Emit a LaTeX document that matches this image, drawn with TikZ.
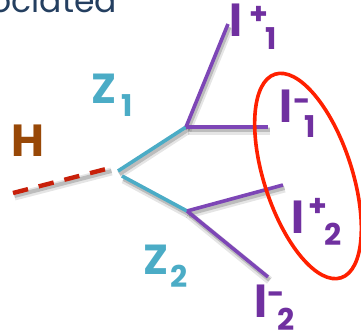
\documentclass[tikz,border=0pt]{standalone}
\usepackage{fontspec}
\setmainfont{Poppins}
\definecolor{titleblue}{HTML}{243F60}
\definecolor{hbrown}{HTML}{984807}
\definecolor{zteal}{HTML}{4BACC6}
\definecolor{lpurple}{HTML}{7030A0}
\definecolor{lnpurple}{HTML}{7D46B6}
\definecolor{dashred}{HTML}{C8200A}
\definecolor{ellred}{HTML}{FF2000}
\begin{document}
\begin{tikzpicture}[x=1pt,y=-1pt,
  every node/.style={inner sep=0pt, outer sep=0pt},
  shadowA/.style={draw=black, opacity=0.10, line width=8pt, transform canvas={shift={(1.5pt,-3.5pt)}}},
  shadowB/.style={draw=black, opacity=0.18, line width=4pt, transform canvas={shift={(1.5pt,-3pt)}}},
  zline/.style={draw=zteal, line width=3.6pt},
  lline/.style={draw=lnpurple, line width=3.6pt},
  hline/.style={draw=dashred, line width=4.4pt, dash pattern=on 15.5pt off 11pt},
  bigl/.style={text=lpurple, font=\bfseries\fontsize{44}{44}\selectfont, anchor=base west},
  smallp/.style={text=lpurple, font=\bfseries\fontsize{30}{30}\selectfont, anchor=base west},
  zlab/.style={text=zteal, font=\bfseries\fontsize{42}{42}\selectfont, anchor=base west},
  zsub/.style={text=zteal, font=\bfseries\fontsize{30}{30}\selectfont, anchor=base west}]
\useasboundingbox (0,0) rectangle (361,334);

% coordinates
\coordinate (hs) at (13,193);
\coordinate (he) at (110,168);
\coordinate (v1) at (118,171);
\coordinate (v2) at (122,176);
\coordinate (za) at (186,127);
\coordinate (zb) at (187,211);
\coordinate (lp1) at (228,24);
\coordinate (lm1) at (268,127);
\coordinate (lp2) at (283,185);
\coordinate (lm2) at (268,277);

% title fragment
\node[text=titleblue, font=\fontsize{33}{33}\selectfont, anchor=base east] (title) at (117,13) {associated};

% shadows
\foreach \s in {shadowA,shadowB}{
  \draw[\s] (hs) -- (he);
  \draw[\s] (v1) -- (za);
  \draw[\s] (v2) -- (zb);
  \draw[\s] (za) -- (lp1);
  \draw[\s] (za) -- (lm1);
  \draw[\s] (zb) -- (lp2);
  \draw[\s] (zb) -- (lm2);
}

% lines
\draw[hline] (hs) -- (he);
\draw[zline] (v1) -- (za);
\draw[zline] (v2) -- (zb);
\draw[lline] (za) -- (lp1);
\draw[lline] (za) -- (lm1);
\draw[lline] (zb) -- (lp2);
\draw[lline] (zb) -- (lm2);

% ellipse
\draw[ellred, line width=3.6pt, shift={(308,176)}, rotate=-72] (0,0) ellipse [x radius=107pt, y radius=44pt];

% labels
\node[text=hbrown, font=\bfseries\fontsize{45}{45}\selectfont, anchor=base west] (H) at (12,156) {H};
\node[zlab] (Z1) at (91,103) {Z};
\node[zsub] (Z1s) at (121,117) {1};
\node[zlab] (Z2) at (143,274) {Z};
\node[zsub] (Z2s) at (170,287) {2};

\node[bigl] (L1p) at (229,37) {l};
\node[smallp] (L1pa) at (249,25) {+};
\node[smallp] (L1pb) at (265,50) {1};

\node[bigl] (L1m) at (279,123) {l};
\node[smallp] (L1ma) at (293,112) {-};
\node[smallp] (L1mb) at (304,137) {1};

\node[bigl] (L2p) at (291,233) {l};
\node[smallp] (L2pa) at (308,216) {+};
\node[smallp] (L2pb) at (324,245) {2};

\node[bigl] (L2m) at (254,317) {l};
\node[smallp] (L2ma) at (267,304) {-};
\node[smallp] (L2mb) at (277,330) {2};
\end{tikzpicture}
\end{document}
